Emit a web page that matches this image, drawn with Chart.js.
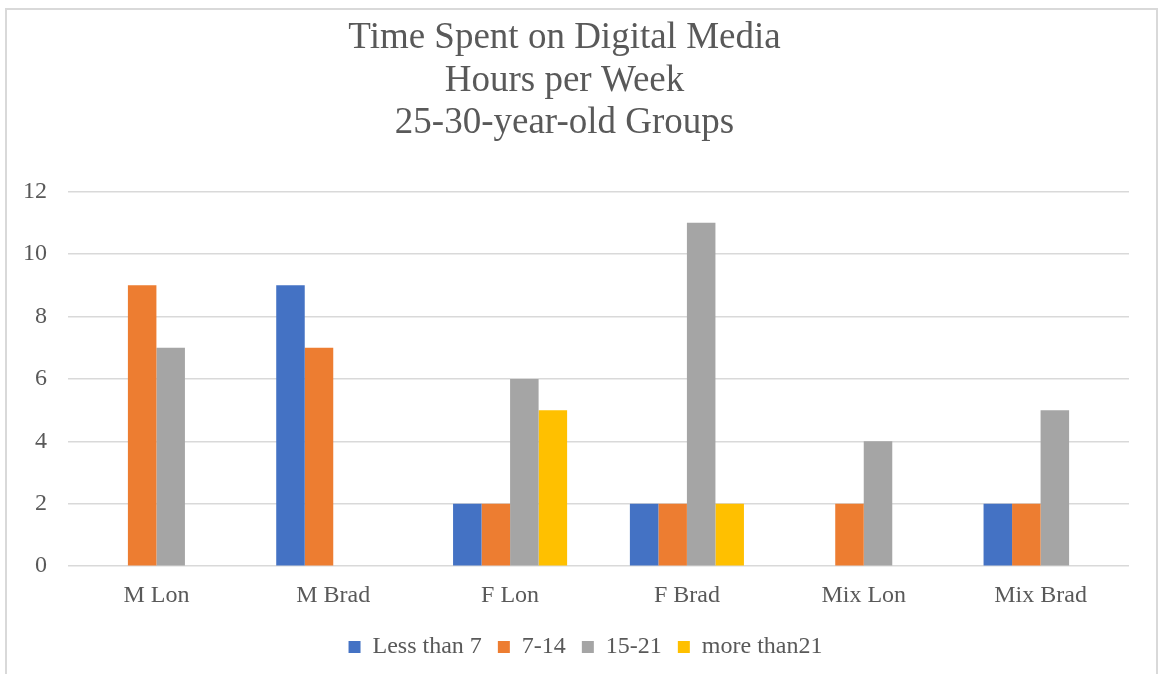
<!DOCTYPE html>
<html>
<head>
<meta charset="utf-8">
<script src="https://cdn.jsdelivr.net/npm/chart.js@4/dist/chart.umd.min.js"></script>
<style>
  html, body { margin: 0; padding: 0; background: #fff; }
  #wrap { width: 1160px; height: 674px; }
</style>
</head>
<body>
<div id="wrap"><canvas id="myChart"></canvas></div>
<script>
// Groups on the x-axis
var groups = ['M Lon', 'M Brad', 'F Lon', 'F Brad', 'Mix Lon', 'Mix Brad'];

// Hours per week, one array per answer band
var lessThan7 = [0, 9, 2, 2, 0, 2];
var from7to14 = [9, 7, 2, 2, 2, 2];
var from15to21 = [7, 0, 6, 11, 4, 5];
var moreThan21 = [0, 0, 5, 2, 0, 0];

var titleLines = ['Time Spent on Digital Media', 'Hours per Week', '25-30-year-old Groups'];

var serif = "'Times New Roman', 'Liberation Serif', serif";
var textColor = '#595959';

Chart.defaults.font.family = serif;
Chart.defaults.color = textColor;

// light grey frame round the whole chart, like the office chart border
var framePlugin = {
    id: 'frame',
    beforeDraw: function(chart) {
        var c = chart.ctx;
        c.save();
        c.strokeStyle = '#d9d9d9';
        c.lineWidth = 2;
        c.strokeRect(6, 9, 1151, 700);
        c.restore();
    }
};

// the legend sits a little right of centre in the original
var legendShift = {
    id: 'legendShift',
    afterLayout: function(chart) {
        chart.legend.left += 21;
        chart.legend.right += 21;
    }
};

var ctx = document.getElementById('myChart').getContext('2d');

var myChart = new Chart(ctx, {
    type: 'bar',
    data: {
        labels: groups,
        datasets: [
            { label: 'Less than 7', data: lessThan7, backgroundColor: '#4472C4' },
            { label: '7-14', data: from7to14, backgroundColor: '#ED7D31' },
            { label: '15-21', data: from15to21, backgroundColor: '#A5A5A5' },
            { label: 'more than21', data: moreThan21, backgroundColor: '#FFC000' }
        ]
    },
    options: {
        responsive: true,
        maintainAspectRatio: false,
        animation: false,
        layout: {
            padding: { top: 17, right: 31, bottom: 5, left: 0 }
        },
        datasets: {
            bar: {
                categoryPercentage: 0.645,
                barPercentage: 1.0,
                borderWidth: 0
            }
        },
        scales: {
            x: {
                afterFit: function(axis) { axis.height += 2; },
                grid: { display: false },
                border: { display: false },
                ticks: {
                    color: textColor,
                    font: { size: 24 },
                    padding: 7
                }
            },
            y: {
                min: 0,
                max: 12,
                afterFit: function(axis) { axis.width = 68; },
                grid: {
                    color: '#d9d9d9',
                    lineWidth: 1.5,
                    drawTicks: false
                },
                border: { display: false },
                ticks: {
                    stepSize: 2,
                    color: textColor,
                    font: { size: 24 },
                    padding: 21
                }
            }
        },
        plugins: {
            title: {
                display: true,
                text: titleLines,
                color: textColor,
                font: { size: 37, weight: 'normal', lineHeight: 1.15 },
                padding: { top: 0, bottom: 47 }
            },
            legend: {
                position: 'bottom',
                labels: {
                    boxWidth: 12,
                    boxHeight: 12,
                    padding: 16,
                    color: textColor,
                    font: { size: 24 }
                }
            },
            tooltip: { enabled: false }
        }
    },
    plugins: [framePlugin, legendShift]
});
</script>
</body>
</html>
